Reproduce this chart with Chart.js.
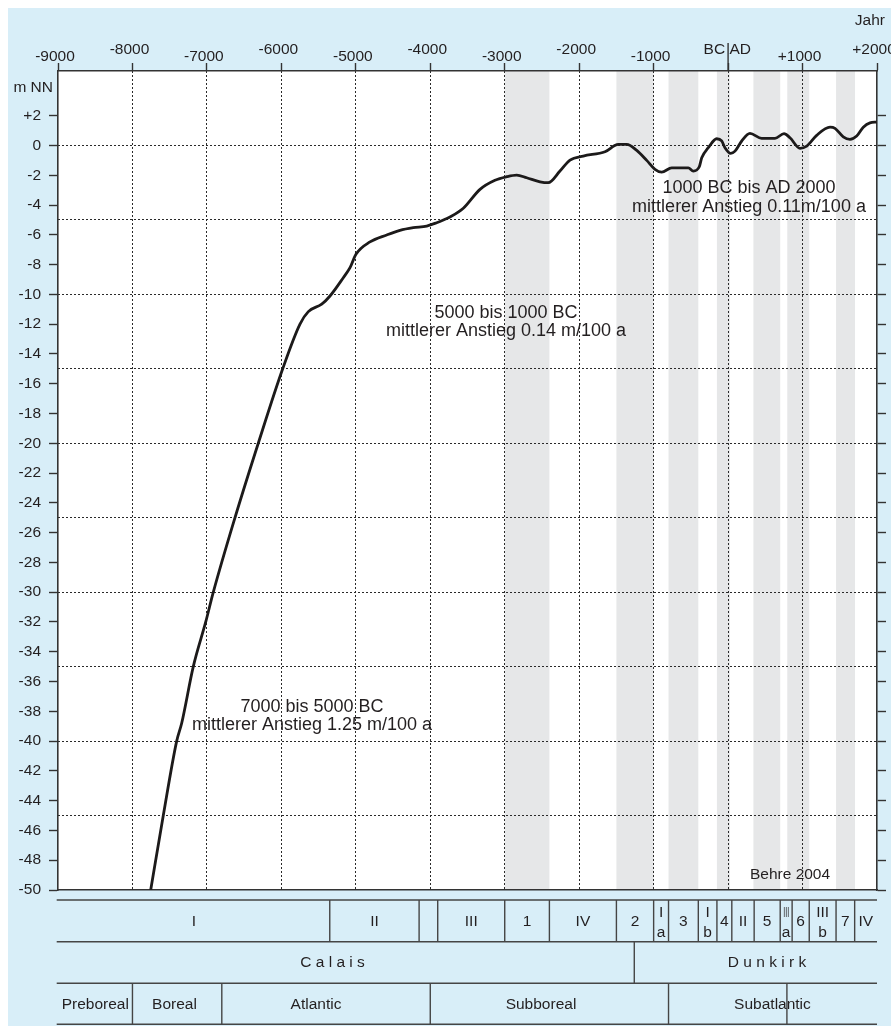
<!DOCTYPE html>
<html>
<head>
<meta charset="utf-8">
<title>Meeresspiegelanstieg an der südlichen Nordseeküste</title>
<script src="https://cdn.jsdelivr.net/npm/chart.js@4.4.1/dist/chart.umd.min.js"></script>
<style>
  html, body { margin: 0; padding: 0; background: #fff; }
  canvas { display: block; }
</style>
</head>
<body>
<canvas id="chart" width="891" height="1026"></canvas>
<script>
// Mean high-water level (m NN) against calendar year (negative = BC)
const years = [-7755, -7586, -7406, -7339, -7183, -7016, -6914, -6623, -6310, -5982,
  -5750, -5638, -5458, -5347, -5168, -5078, -4998, -4810, -4585, -4407,
  -4228, -4048, -3914, -3802, -3735, -3556, -3332, -3131, -2974, -2839,
  -2705, -2526, -2415, -2258, -2123, -1945, -1653, -1475, -1362, -1227,
  -1093, -982, -892, -757, -534, -467, -387, -354, -266, -153,
  -86, -42, 35, 93, 183, 294, 451, 630, 751, 831,
  966, 1056, 1190, 1369, 1436, 1547, 1637, 1727, 1816, 1906, 1996];
const levels = [-50, -45, -40, -38.8, -35, -32, -30, -25, -20, -15,
  -12.0, -11.16, -10.66, -10.11, -8.88, -8.21, -7.31, -6.48, -6.01, -5.70,
  -5.52, -5.41, -5.19, -4.96, -4.81, -4.22, -2.95, -2.34, -2.10, -1.99,
  -2.17, -2.44, -2.50, -1.72, -0.98, -0.71, -0.42, 0.07, 0.07, -0.33,
  -1.0, -1.60, -1.79, -1.50, -1.50, -1.72, -1.43, -0.83, -0.15, 0.45,
  0.30, -0.15, -0.53, -0.38, 0.30, 0.81, 0.48, 0.48, 0.79, 0.52,
  -0.19, -0.04, 0.68, 1.23, 1.15, 0.58, 0.41, 0.63, 1.23, 1.52, 1.57];

// Axis ticks
const xTickValues = [-9000, -8000, -7000, -6000, -5000, -4000, -3000, -2000, -1000, 0, 1000, 2000];
const xTickLabels = ['-9000', '-8000', '-7000', '-6000', '-5000', '-4000', '-3000', '-2000', '-1000', ' BC AD', '+1000', '+2000'];
const yTickValues = [-50, -48, -46, -44, -42, -40, -38, -36, -34, -32, -30, -28, -26, -24, -22, -20,
  -18, -16, -14, -12, -10, -8, -6, -4, -2, 0, 2];
const xGridValues = [-8000, -7000, -6000, -5000, -4000, -3000, -2000, -1000, 0, 1000];
const yGridValues = [0, -5, -10, -15, -20, -25, -30, -35, -40, -45];

// Transgression phases (shaded), from-to in years
const transgressions = [[-3000, -2400], [-1500, -1000], [-800, -400], [-150, 25], [340, 700], [795, 1090], [1450, 1705]];

// Period table: phase row, Calais/Dunkirk row, pollen-zone row
const phaseBounds = [-9000, -5350, -4150, -3900, -3000, -2400, -1500, -1000, -800, -400, -150, 50, 350, 700, 860, 1090, 1450, 1700, 2000];
const phaseLabels = ['I', 'II', '', 'III', '1', 'IV', '2', 'I|a', '3', 'I|b', '4', 'II', '5', 'III|a', '6', 'III|b', '7', 'IV'];
const stageBounds = [-9000, -1260, 2000];
const stageLabels = ['C a l a i s', 'D u n k i r k'];
const zoneBounds = [-9000, -8000, -6800, -4000, -800, 2000];
const zoneLabels = ['Preboreal', 'Boreal', 'Atlantic', 'Subboreal', 'Subatlantic'];
const zoneExtraDividers = [790];

// Where the row captions sit (years)
const stageLabelAt = [-5313, 523];
const zoneLabelAt = [-8499, -7435, -5535, -2513, 596];

// Text notes anchored in data units [year, level]
const notes = [
  { text: '1000 BC bis AD 2000', at: [281, -2.84] },
  { text: 'mittlerer Anstieg 0.11m/100 a', at: [281, -4.11] },
  { text: '5000 bis 1000 BC', at: [-2983, -11.23] },
  { text: 'mittlerer Anstieg 0.14 m/100 a', at: [-2983, -12.46] },
  { text: '7000 bis 5000 BC', at: [-5588, -37.74] },
  { text: 'mittlerer Anstieg 1.25 m/100 a', at: [-5588, -38.9] }
];
const credit = { text: 'Behre 2004', at: [832, -48.99] };

const FONT = '"Liberation Sans", Arial, Helvetica, sans-serif';
const INK = '#231f20';
const RULE = '#333333';
const PANEL = '#d8eef8';
const SHADE = '#e6e7e8';

const backdrop = {
  id: 'backdrop',
  beforeDraw(chart) {
    const { ctx, chartArea: a, scales: { x } } = chart;
    ctx.save();
    ctx.fillStyle = '#ffffff';
    ctx.fillRect(0, 0, chart.width, chart.height);
    ctx.fillStyle = PANEL;
    ctx.fillRect(8, 8, chart.width - 8, chart.height - 8);
    ctx.fillStyle = '#ffffff';
    ctx.fillRect(a.left, a.top, a.right - a.left, a.bottom - a.top);
    ctx.fillStyle = SHADE;
    transgressions.forEach(([from, to]) => {
      const x1 = x.getPixelForValue(from);
      const x2 = x.getPixelForValue(to);
      ctx.fillRect(x1, a.top, x2 - x1, a.bottom - a.top);
    });
    ctx.restore();
  }
};

const extras = {
  id: 'extras',
  afterDraw(chart) {
    const { ctx, chartArea: a, scales: { x, y } } = chart;
    const line = (x1, y1, x2, y2) => {
      ctx.beginPath(); ctx.moveTo(x1, y1); ctx.lineTo(x2, y2); ctx.stroke();
    };
    ctx.save();
    ctx.fillStyle = INK;
    ctx.textBaseline = 'middle';

    // axis captions
    ctx.font = '15.5px ' + FONT;
    ctx.textAlign = 'right';
    ctx.fillText('m NN', a.left - 5, a.top + 17);
    ctx.fillText('Jahr', chart.width - 6, 21);

    // long BC/AD tick
    const x0 = x.getPixelForValue(0);
    ctx.strokeStyle = RULE;
    ctx.lineWidth = 1.4;
    line(x0, a.top, x0, a.top - 28);

    // notes on the plot
    ctx.textAlign = 'center';
    ctx.font = '18px ' + FONT;
    notes.forEach(n => ctx.fillText(n.text, x.getPixelForValue(n.at[0]), y.getPixelForValue(n.at[1])));
    ctx.font = '15.5px ' + FONT;
    ctx.fillText(credit.text, x.getPixelForValue(credit.at[0]), y.getPixelForValue(credit.at[1]));

    // period table
    const rows = [a.bottom + 10, a.bottom + 51.7, a.bottom + 93.3, a.bottom + 134.3];
    const L = x.getPixelForValue(-9000) - 1.3;
    const R = x.getPixelForValue(2000);
    ctx.strokeStyle = '#454545';
    ctx.lineWidth = 1.4;
    rows.forEach(ry => line(L, ry, R, ry));
    phaseBounds.slice(1, -1).forEach(v => { const px = x.getPixelForValue(v); line(px, rows[0], px, rows[1]); });
    stageBounds.slice(1, -1).forEach(v => { const px = x.getPixelForValue(v); line(px, rows[1], px, rows[2]); });
    zoneBounds.slice(1, -1).concat(zoneExtraDividers).forEach(v => { const px = x.getPixelForValue(v); line(px, rows[2], px, rows[3]); });

    ctx.fillStyle = INK;
    ctx.font = '15.5px ' + FONT;
    ctx.textAlign = 'center';
    const mid1 = (rows[0] + rows[1]) / 2;
    phaseLabels.forEach((lab, i) => {
      if (!lab) return;
      const x1 = x.getPixelForValue(phaseBounds[i]);
      const x2 = x.getPixelForValue(phaseBounds[i + 1]);
      const cx = (x1 + x2) / 2;
      const parts = lab.split('|');
      if (parts.length === 1) {
        ctx.fillText(lab, cx, mid1 + 0.5);
      } else {
        const room = Math.max(4, x2 - x1 - 6);
        const wTop = Math.min(ctx.measureText(parts[0]).width, room);
        ctx.fillText(parts[0], cx, rows[0] + 13, wTop);
        ctx.fillText(parts[1], cx, rows[0] + 32.5);
      }
    });
    const mid2 = (rows[1] + rows[2]) / 2;
    stageLabels.forEach((lab, i) => ctx.fillText(lab, x.getPixelForValue(stageLabelAt[i]), mid2 + 0.5));
    const mid3 = (rows[2] + rows[3]) / 2;
    zoneLabels.forEach((lab, i) => ctx.fillText(lab, x.getPixelForValue(zoneLabelAt[i]), mid3 + 0.5));

    ctx.restore();
  }
};

const dash = [2, 2];

new Chart(document.getElementById('chart'), {
  type: 'line',
  data: {
    datasets: [{
      data: years.map((yr, i) => ({ x: yr, y: levels[i] })),
      borderColor: '#1c1a1a',
      borderWidth: 2.8,
      pointRadius: 0,
      cubicInterpolationMode: 'monotone',
      fill: false,
      xAxisID: 'x',
      yAxisID: 'y'
    }]
  },
  options: {
    responsive: false,
    maintainAspectRatio: false,
    animation: false,
    events: [],
    layout: { padding: { left: 0, top: 0, right: 0, bottom: 136 }, autoPadding: false },
    plugins: { legend: { display: false }, tooltip: { enabled: false } },
    scales: {
      x: {
        type: 'linear', position: 'top', min: -9000, max: 2000,
        afterBuildTicks: s => { s.ticks = xTickValues.map(v => ({ value: v })); },
        afterFit: s => { s.height = 71; s.paddingLeft = 0; s.paddingRight = 0; },
        grid: { drawOnChartArea: false, tickLength: 8, tickColor: RULE, tickWidth: 1.4 },
        border: { color: RULE, width: 1.6 },
        ticks: {
          autoSkip: false, maxRotation: 0, minRotation: 0, padding: 2.5, labelOffset: -3,
          color: INK, font: { family: FONT, size: 15.5, lineHeight: '7px' },
          callback: v => {
            const i = xTickValues.indexOf(v);
            return i % 2 ? [xTickLabels[i], ''] : xTickLabels[i];
          }
        }
      },
      xg: {
        type: 'linear', position: 'bottom', min: -9000, max: 2000,
        afterBuildTicks: s => { s.ticks = xGridValues.map(v => ({ value: v })); },
        afterFit: s => { s.height = 0; s.paddingLeft = 0; s.paddingRight = 0; },
        grid: { drawTicks: false, color: '#2a2a2a', lineWidth: 1 },
        border: { display: true, color: RULE, width: 1.6, dash: dash },
        ticks: { display: false }
      },
      y: {
        type: 'linear', position: 'left', min: -50, max: 5,
        afterBuildTicks: s => { s.ticks = yTickValues.map(v => ({ value: v })); },
        afterFit: s => { s.width = 58; s.paddingTop = 0; s.paddingBottom = 0; },
        grid: { drawOnChartArea: false, tickLength: 9, tickColor: RULE, tickWidth: 1.4 },
        border: { color: RULE, width: 1.6 },
        ticks: {
          padding: 8, color: INK, font: { family: FONT, size: 15.5 },
          callback: v => (v > 0 ? '+' + v : String(v))
        }
      },
      yg: {
        type: 'linear', position: 'left', min: -50, max: 5,
        afterBuildTicks: s => { s.ticks = yGridValues.map(v => ({ value: v })); },
        afterFit: s => { s.width = 0; s.paddingTop = 0; s.paddingBottom = 0; },
        grid: { drawTicks: false, color: '#2a2a2a', lineWidth: 1 },
        border: { display: false, dash: dash },
        ticks: { display: false }
      },
      yR: {
        type: 'linear', position: 'right', min: -50, max: 5,
        afterBuildTicks: s => { s.ticks = yTickValues.map(v => ({ value: v })); },
        afterFit: s => { s.width = 14; s.paddingTop = 0; s.paddingBottom = 0; },
        grid: { drawOnChartArea: false, tickLength: 9, tickColor: RULE, tickWidth: 1.4 },
        border: { color: RULE, width: 1.6 },
        ticks: { display: false }
      }
    }
  },
  plugins: [backdrop, extras]
});
</script>
</body>
</html>
